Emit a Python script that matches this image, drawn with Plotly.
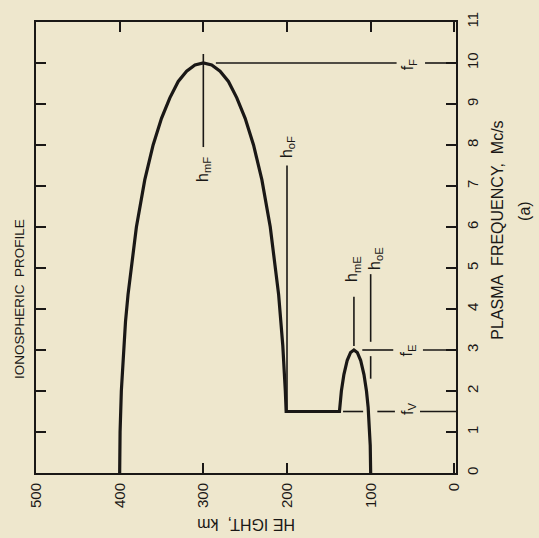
import plotly.graph_objects as go

# Ionospheric electron-density profile: plasma frequency vs height
# F layer (parabolic), valley at f_V, E layer (parabolic)
f_height = [400, 399.5, 398, 396, 393, 390, 385, 380, 370, 360, 350, 340, 330, 320,
            310, 300, 290, 280, 270, 260, 250, 240, 230, 220, 210, 205, 202, 201]
f_freq = [0, 1.0, 2.0, 2.8, 3.7, 4.35, 5.25, 6.0, 7.15, 8.0, 8.65, 9.15, 9.55, 9.8,
          9.95, 10.0, 9.95, 9.8, 9.55, 9.15, 8.65, 8.0, 7.15, 6.0, 4.35, 3.1, 2.0, 1.5]
valley_height = [201, 137.3]
valley_freq = [1.5, 1.5]
e_height = [137.3, 135, 132, 128, 124, 120, 116, 112, 108, 105, 103, 101.5, 100.5, 100]
e_freq = [1.5, 2.0, 2.4, 2.75, 2.94, 3.0, 2.94, 2.75, 2.4, 2.0, 1.6, 1.15, 0.67, 0]

# characteristic parameters
hmF, hoF, fF = 300, 200, 10
hmE, hoE, fE = 120, 100, 3
fV = 1.5

x_ticks = [0, 100, 200, 300, 400, 500]
y_ticks = list(range(0, 12))

INK = "#1a1816"
BG = "#eee7cd"
FONT = "Liberation Sans"

W, H = 539, 538
L, R, T, B = 36, 83, 17, 65


def px(xp):
    return (xp - L) / (W - L - R)


def py(yp):
    return (H - B - yp) / (H - T - B)


fig = go.Figure()

profile_h = f_height + valley_height[1:] + e_height[1:]
profile_f = f_freq + valley_freq[1:] + e_freq[1:]
fig.add_trace(go.Scatter(x=profile_h, y=profile_f, mode="lines",
                         line=dict(color=INK, width=3.2), hoverinfo="skip"))


def seg(xs, ys, dash=None):
    fig.add_trace(go.Scatter(x=xs, y=ys, mode="lines",
                             line=dict(color=INK, width=1.6, dash=dash),
                             hoverinfo="skip"))


# marker lines
seg([hmF, hmF], [fF + 0.22, fF - 2.05])
seg([hoF, hoF], [7.5, fV])
seg([hmF - 15, 69], [fF, fF])
seg([35, -2], [fF, fF])
seg([hmE, hmE], [4.3, fE + 0.1])
seg([hoE, hoE], [4.85, 3.2])
seg([hoE, hoE], [2.85, 2.3])
seg([hmE - 10, 73], [fE, fE])
seg([37.5, -2], [fE, fE])
seg([133, 109], [fV, fV])
seg([92, 71], [fV, fV])
seg([41, -2], [fV, fV])

annos = []


def lab(x, y, text, size=16):
    annos.append(dict(x=x, y=y, xref="x", yref="y", text=text, showarrow=False,
                      textangle=-90, xanchor="center", yanchor="middle",
                      font=dict(family=FONT, size=size, color=INK)))


lab(hmF, 7.4, "h<sub>mF</sub>")
lab(hoF, 7.95, "h<sub>oF</sub>")
lab(55, fF - 0.05, "f<sub>F</sub>")
lab(121, 4.98, "h<sub>mE</sub>")
lab(95, 5.24, "h<sub>oE</sub>")
lab(56, fE, "f<sub>E</sub>")
lab(55, fV + 0.07, "f<sub>V</sub>")


def title(xp, yp, text, angle, size):
    annos.append(dict(x=px(xp), y=py(yp), xref="paper", yref="paper", text=text,
                      showarrow=False, textangle=angle,
                      xanchor="center", yanchor="middle",
                      font=dict(family=FONT, size=size, color=INK)))


title(20, 297, "IONOSPHERIC&nbsp;&nbsp;PROFILE", -90, 13.5)
title(246, 525, "HE IGHT,&nbsp;&nbsp;km", 180, 16)
title(498, 228, "PLASMA&nbsp;&nbsp;FREQUENCY,&nbsp;&nbsp;Mc/s", -90, 16)
title(525, 208, "(a)", -90, 16)

axis_common = dict(showline=True, linecolor=INK, linewidth=2, mirror="ticks",
                   ticks="inside", ticklen=10, tickwidth=2, tickcolor=INK,
                   showgrid=False, zeroline=False, tickangle=-90,
                   tickfont=dict(family=FONT, size=15, color=INK))

fig.update_layout(
    width=W, height=H,
    margin=dict(l=L, r=R, t=T, b=B),
    paper_bgcolor=BG, plot_bgcolor=BG,
    showlegend=False,
    annotations=annos,
    xaxis=dict(range=[500, -2], tickvals=x_ticks, ticklabelstandoff=2, **axis_common),
    yaxis=dict(range=[0, 11], tickvals=y_ticks, side="right", ticklabelstandoff=2,
               **axis_common),
)

fig.write_html("out.html")
